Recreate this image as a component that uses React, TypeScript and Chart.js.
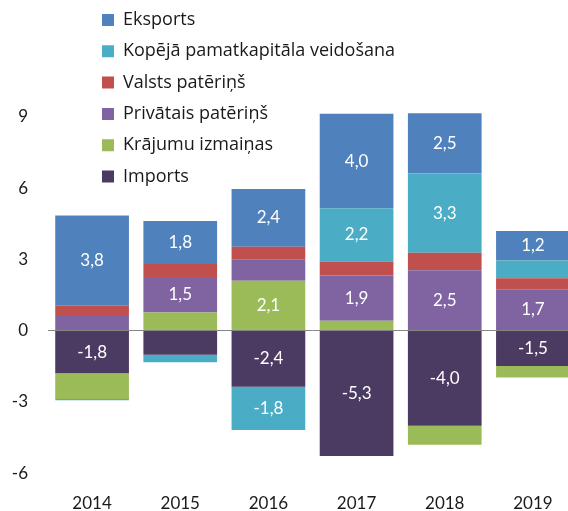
import { useEffect, useRef } from "react";
import { Chart, registerables } from "chart.js";

Chart.register(...registerables);

const years = ["2014", "2015", "2016", "2017", "2018", "2019"];
const eksports = [3.8, 1.8, 2.43, 3.98, 2.54, 1.24];
const kopeja = [-0.05, -0.31, -1.82, 2.24, 3.33, 0.75];
const valsts = [0.39, 0.55, 0.55, 0.59, 0.74, 0.46];
const privatais = [0.66, 1.5, 0.88, 1.9, 2.54, 1.74];
const krajumu = [-1.08, 0.76, 2.1, 0.42, -0.8, -0.48];
const imports = [-1.8, -1.02, -2.36, -5.28, -4.01, -1.49];
const yTicks = [-6, -3, 0, 3, 6, 9];

const FONT = "Lato";
const LEGEND_FONT = "'Open Sans'";
const TEXT = "#1a1a1a";

const segLabels = {
  id: "segLabels",
  afterDatasetsDraw(chart: any) {
    const ctx = chart.ctx;
    ctx.save();
    ctx.font = `17px ${FONT}`;
    ctx.fillStyle = "#ffffff";
    ctx.textAlign = "center";
    ctx.textBaseline = "middle";
    chart.data.datasets.forEach((ds: any, i: number) => {
      const meta = chart.getDatasetMeta(i);
      meta.data.forEach((bar: any, j: number) => {
        const v = ds.data[j] as number;
        if (Math.abs(v) < 1.15) return;
        const { x, y, base } = bar.getProps(["x", "y", "base"], true);
        ctx.fillText(v.toFixed(1).replace(".", ","), x, (y + base) / 2);
      });
    });
    ctx.restore();
  },
};

const legendPos = {
  id: "legendPos",
  afterLayout(chart: any) {
    const lg = chart.legend;
    if (!lg) return;
    lg.left = 88.7;
    lg.top = -2.3;
    lg.width = 440;
    lg.height = 480;
    lg.right = lg.left + lg.width;
    lg.bottom = lg.top + lg.height;
  },
};

export default function App() {
  const ref = useRef<HTMLCanvasElement | null>(null);

  useEffect(() => {
    if (!ref.current) return;
    const chart = new Chart(ref.current, {
      type: "bar",
      data: {
        labels: years,
        datasets: [
          { label: "Imports", data: imports, backgroundColor: "#4B3B62" },
          { label: "Krājumu izmaiņas", data: krajumu, backgroundColor: "#9BBB59" },
          { label: "Privātais patēriņš", data: privatais, backgroundColor: "#8064A2" },
          { label: "Valsts patēriņš", data: valsts, backgroundColor: "#C0504D" },
          { label: "Kopējā pamatkapitāla veidošana", data: kopeja, backgroundColor: "#4BACC6" },
          { label: "Eksports", data: eksports, backgroundColor: "#4F81BD" },
        ].map((d) => ({ ...d, borderWidth: 0, barPercentage: 0.836, categoryPercentage: 1 })),
      },
      options: {
        responsive: false,
        animation: false,
        layout: { padding: 0 },
        font: { family: FONT },
        plugins: {
          legend: {
            position: "chartArea",
            align: "start",
            reverse: true,
            labels: {
              boxWidth: 12,
              boxHeight: 12,
              padding: 13.3,
              color: TEXT,
              font: { family: LEGEND_FONT, size: 18 },
            },
          },
          tooltip: { enabled: false },
        },
        scales: {
          x: {
            stacked: true,
            grid: { display: false, drawTicks: false },
            border: { display: false },
            ticks: { color: TEXT, font: { family: FONT, size: 17 }, padding: 8 },
            afterFit(s: any) {
              s.height = 26;
              s.paddingLeft = 0;
              s.paddingRight = 0;
            },
          },
          y: {
            stacked: true,
            min: -6.5,
            max: 13.92,
            afterBuildTicks(s: any) {
              s.ticks = yTicks.map((v) => ({ value: v }));
            },
            grid: {
              color: (c: any) => (c.tick && c.tick.value === 0 ? "#868686" : "rgba(0,0,0,0)"),
              drawTicks: false,
              lineWidth: 1,
            },
            border: { display: false },
            ticks: { color: TEXT, font: { family: FONT, size: 17 }, padding: 20 },
            afterFit(s: any) {
              s.width = 48;
              s.paddingTop = 0;
              s.paddingBottom = 0;
            },
          },
        },
      } as any,
      plugins: [segLabels, legendPos],
    });
    return () => chart.destroy();
  }, []);

  return (
    <div
      style={{
        position: "fixed",
        left: 0,
        top: 0,
        width: 568,
        height: 511,
        overflow: "hidden",
        background: "#fff",
      }}
    >
      <canvas ref={ref} width={577} height={511} style={{ display: "block", width: 577, height: 511 }} />
    </div>
  );
}
